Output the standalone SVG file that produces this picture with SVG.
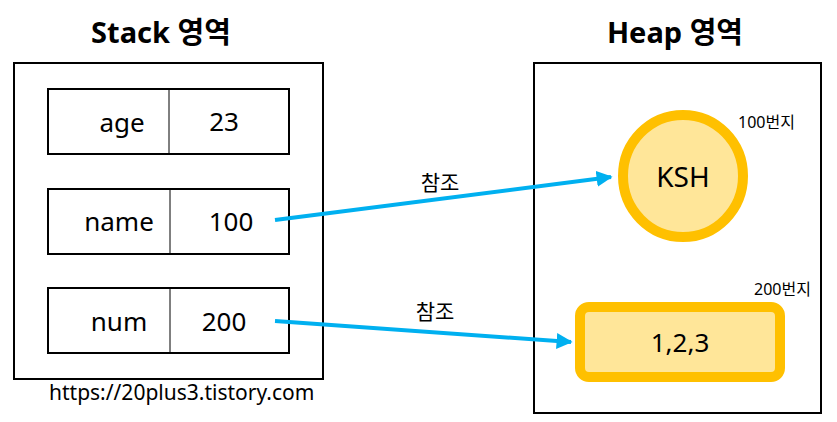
<svg xmlns="http://www.w3.org/2000/svg" width="837" height="422" viewBox="0 0 837 422">
<style>
text{font-family:"Noto Sans","Noto Sans CJK KR",sans-serif;fill:#000}
.title{font-size:29px;font-weight:bold;text-anchor:middle}
.cell{fill:#fff;stroke:#000;stroke-width:2}
.v{font-size:26px;text-anchor:middle}
.box{fill:#fff;stroke:#000;stroke-width:2}
.mem{fill:#ffe699;stroke:#ffc000;stroke-width:10}
.conn{stroke:#00b0f0;stroke-width:4;fill:none}
.lbl{font-size:21px;text-anchor:middle}
.addr{font-size:16px}
</style>
<defs>
<marker id="ah" viewBox="0 0 10 10" refX="9" refY="5" markerWidth="4" markerHeight="4" orient="auto" markerUnits="strokeWidth">
<path d="M0,0 L10,5 L0,10 z" fill="#00b0f0"/>
</marker>
</defs>
<text class="title" x="161" y="43">Stack 영역</text>
<text class="title" x="675" y="43">Heap 영역</text>
<g id="stack"><rect class="box" x="14" y="63" width="309" height="316"/></g>
<g id="heap"><rect class="box" x="534" y="63" width="287" height="350"/></g>
<g id="age">
<rect class="cell" x="48" y="89" width="241" height="65"/>
<line x1="169" y1="89" x2="169" y2="154" stroke="#000" stroke-width="1"/>
<text class="v" x="122" y="132">age</text>
<text class="v" x="224" y="131">23</text>
</g>
<g id="name">
<rect class="cell" x="48" y="189" width="241" height="65"/>
<line x1="170" y1="189" x2="170" y2="254" stroke="#000" stroke-width="1"/>
<text class="v" x="119" y="231">name</text>
<text class="v" x="231" y="231">100</text>
</g>
<g id="num">
<rect class="cell" x="48" y="288" width="241" height="65"/>
<line x1="170" y1="288" x2="170" y2="353" stroke="#000" stroke-width="1"/>
<text class="v" x="119" y="331">num</text>
<text class="v" x="224" y="331">200</text>
</g>
<g id="ksh">
<ellipse class="mem" cx="683" cy="176" rx="60" ry="61"/>
<text class="v" x="683" y="187" style="font-size:28px">KSH</text>
<text class="addr" x="738" y="128">100번지</text>
</g>
<g id="arr">
<rect class="mem" x="580" y="307" width="200" height="70" rx="9"/>
<text class="v" x="680" y="352">1,2,3</text>
<text class="addr" x="754" y="295">200번지</text>
</g>
<g id="connectors">
<line class="conn" x1="275" y1="220" x2="611" y2="177" marker-end="url(#ah)"/>
<line class="conn" x1="275" y1="321" x2="571" y2="342" marker-end="url(#ah)"/>
<text class="lbl" x="440" y="190">참조</text>
<text class="lbl" x="435" y="319">참조</text>
</g>
<text x="49" y="400" style="font-size:21px">https://20plus3.tistory.com</text>
</svg>
